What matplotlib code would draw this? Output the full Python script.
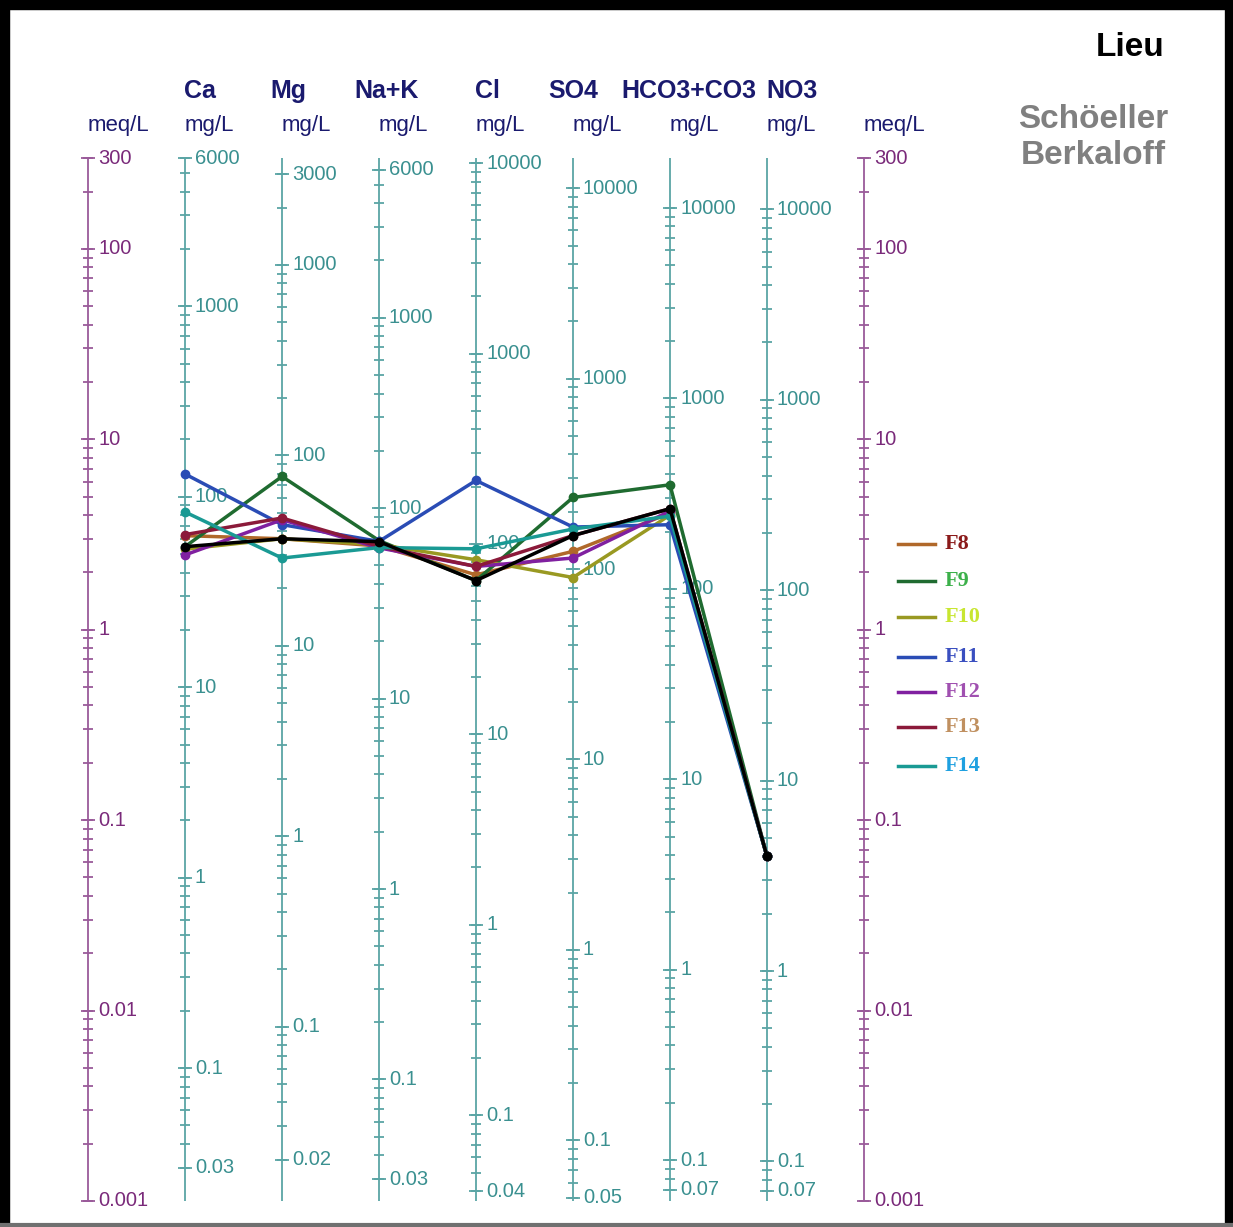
"""
Diagramme de Schöeller-Berkaloff (F8 à F14)
"""

import matplotlib
matplotlib.use('Agg')
import matplotlib.pyplot as plt
import numpy as np

plt.rcParams['font.family'] = ['Liberation Sans', 'DejaVu Sans']

# ---- données ----
ions = ['Ca', 'Mg', 'Na+K', 'Cl', 'SO4', 'HCO3+CO3', 'NO3']
eq_weight = [20.04, 12.15, 23.0, 35.45, 48.03, 61.02, 62.0]   # mg/L -> meq/L
mg_top = [6000, 3000, 6000, 10000, 10000, 10000, 10000]
mg_bottom = [0.03, 0.02, 0.03, 0.04, 0.05, 0.07, 0.07]
meq_labels = [300, 100, 10, 1, 0.1, 0.01, 0.001]

samples = ['F8', 'F9', 'F10', 'F11', 'F12', 'F13', 'F14']
# concentrations en mg/L : Ca, Mg, Na+K, Cl, SO4, HCO3+CO3, NO3
F8 = [62.5, 36.5, 63.3, 68.8, 123.9, 250.0, 4.0]
F9 = [54.7, 77.5, 67.6, 64.2, 237.7, 352.0, 4.0]
F10 = [53.1, 36.5, 64.4, 82.6, 90.3, 244.0, 4.0]
F11 = [131.7, 43.3, 66.9, 215.5, 166.2, 217.2, 4.0]
F12 = [49.5, 45.9, 61.9, 76.2, 114.3, 256.3, 4.0]
F13 = [63.3, 46.9, 63.0, 76.2, 149.9, 263.6, 4.0]
F14 = [83.2, 28.9, 62.1, 94.3, 162.3, 241.0, 4.0]
extra = [54.7, 36.5, 66.7, 64.2, 149.9, 263.6, 4.0]   # courbe noire sans légende

line_colors = ['#b0682a', '#1f6b30', '#999922', '#2a4cb5', '#8020a0', '#8b1a3a', '#1a9a94']
text_colors = ['#8b1a1a', '#3cb04a', '#c8e630', '#3a4fc0', '#a050b0', '#c09060', '#1ea0e0']

# ---- mise en page (pixels) ----
W, H = 1233, 1227
dec = (1201 - 158) / np.log10(300 / 0.001)
ytop = 10 ** (np.log10(300) + 158 / dec)
ybot = 10 ** (-3 - (H - 1201) / dec)
x_cols = [88 + 97 * i for i in range(9)]
teal_line = '#5aa5a5'
teal_txt = '#3a9090'
purp_line = '#9a5a9a'
purp_txt = '#7a2a7a'
navy = '#1a1a6e'

fig = plt.figure(figsize=(W / 100, H / 100), dpi=100)
ax = fig.add_axes([0, 0, 1, 1])
ax.set_xlim(0, W)
ax.set_yscale('log')
ax.set_ylim(ybot, ytop)
ax.axis('off')


def minor_values(lo, hi):
    vals = []
    for e in range(-4, 6):
        for m in range(1, 10):
            v = m * 10.0 ** e
            if lo * 0.999 <= v <= hi * 1.001:
                vals.append(v)
    return vals


def draw_axis(x, lo, hi, conv, labels, lcol, tcol):
    ax.vlines(x, 0.001, 300, color=lcol, lw=1.3)
    for v in minor_values(lo, hi):
        ax.hlines(v / conv, x - 5, x + 5, color=lcol, lw=1.3)
    for v in labels:
        ax.hlines(v / conv, x - 7, x + 7, color=lcol, lw=1.3)
        ax.text(x + 10, v / conv, f'{v:g}', color=tcol, fontsize=14.5,
                ha='left', va='center')


# axes meq/L
for x in (x_cols[0], x_cols[-1]):
    draw_axis(x, 0.001, 300, 1.0, meq_labels, purp_line, purp_txt)
    ax.text(x, 10 ** (np.log10(300) + 32 / dec), 'meq/L', color=navy,
            fontsize=16, ha='left', va='center')

# axes mg/L
for i, ion in enumerate(ions):
    x = x_cols[i + 1]
    labs = [mg_top[i]] + [1000, 100, 10, 1, 0.1] + [mg_bottom[i]]
    draw_axis(x, mg_bottom[i], mg_top[i], eq_weight[i], labs, teal_line, teal_txt)
    ax.text(x, 10 ** (np.log10(300) + 32 / dec), 'mg/L', color=navy,
            fontsize=16, ha='left', va='center')

header_x = [184, 270, 354, 475, 548, 621, 766]
for ion, hx in zip(ions, header_x):
    ax.text(hx, 10 ** (np.log10(300) + 67 / dec), ion, color=navy,
            fontsize=18, fontweight='bold', ha='left', va='center')

# courbes
series = [F8, F9, F10, F11, F12, F13, F14]
for vals, col in zip(series, line_colors):
    meq = np.array(vals) / np.array(eq_weight)
    ax.plot(x_cols[1:8], meq, '-o', color=col, lw=2.5, ms=6, zorder=3)
meq = np.array(extra) / np.array(eq_weight)
ax.plot(x_cols[1:8], meq, '-o', color='black', lw=2.5, ms=6, zorder=4)

# légende
leg_y = [544, 581, 617, 657, 692, 727, 766]
for name, lc, tc, py in zip(samples, line_colors, text_colors, leg_y):
    yv = 10 ** ((630 - py) / dec)
    ax.plot([898, 935], [yv, yv], color=lc, lw=2.5)
    ax.text(945, yv, name, color=tc, fontsize=16, fontweight='bold',
            family=['Liberation Serif', 'DejaVu Serif'], ha='left', va='center')

# titres
ax.text(1165, 10 ** (np.log10(300) + 111 / dec), 'Lieu', color='black',
        fontsize=24, fontweight='bold', ha='right', va='center')
ax.text(1168, 10 ** (np.log10(300) + 39 / dec), 'Schöeller', color='#808080',
        fontsize=24, fontweight='bold', ha='right', va='center')
ax.text(1166, 10 ** (np.log10(300) + 3 / dec), 'Berkaloff', color='#808080',
        fontsize=24, fontweight='bold', ha='right', va='center')

# cadre
fig.add_artist(plt.Line2D([0, 1], [1 - 5 / H, 1 - 5 / H], color='black', lw=7.5))
fig.add_artist(plt.Line2D([5 / W, 5 / W], [0, 1], color='black', lw=7.5))
fig.add_artist(plt.Line2D([1 - 4 / W, 1 - 4 / W], [0, 1], color='black', lw=6))
fig.add_artist(plt.Line2D([0, 1], [2 / H, 2 / H], color='#707070', lw=3))

fig.savefig('out.png', dpi=100)
plt.close(fig)
